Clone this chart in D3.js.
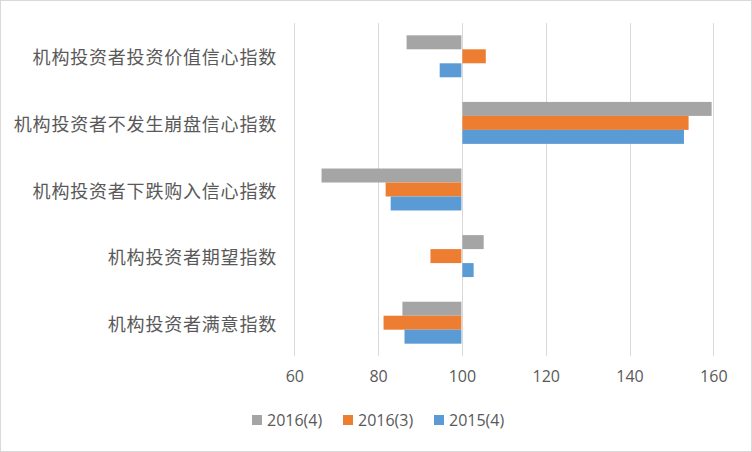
<!DOCTYPE html>
<html><head><meta charset="utf-8">
<script src="https://cdn.jsdelivr.net/npm/d3@7"></script>
<style>body{margin:0;background:#fff;}svg{display:block;}</style>
</head><body>
<script>
const categories = ["机构投资者投资价值信心指数","机构投资者不发生崩盘信心指数","机构投资者下跌购入信心指数","机构投资者期望指数","机构投资者满意指数"];
const seriesNames = ["2016(4)","2016(3)","2015(4)"];
const s2016q4 = [86.8, 159.6, 66.5, 105.2, 85.8];
const s2016q3 = [105.7, 154.1, 81.8, 92.5, 81.3];
const s2015q4 = [94.7, 153.0, 83.0, 102.8, 86.3];
const colors = ["#A5A5A5","#ED7D31","#5B9BD5"];
const xTicks = [60,80,100,120,140,160];
const baseline = 100;

const W=752,H=452;
const svg=d3.select("body").append("svg").attr("width",W).attr("height",H);
svg.append("rect").attr("x",0.5).attr("y",0.5).attr("width",W-1).attr("height",H-1).attr("fill","#fff").attr("stroke","#d9d9d9");

const x=d3.scaleLinear().domain([60,160]).range([294.3,713.3]);
const y=d3.scaleBand().domain(categories).range([23,356]).paddingInner(0.37).paddingOuter(0.185);
const inner=d3.scaleBand().domain(seriesNames).range([0,y.bandwidth()]);

// gridlines
svg.append("g").selectAll("line").data(xTicks).join("line")
  .attr("x1",d=>Math.round(x(d))+0.5).attr("x2",d=>Math.round(x(d))+0.5)
  .attr("y1",23).attr("y2",356).attr("stroke","#d9d9d9").attr("stroke-width",1);

const series=[s2016q4,s2016q3,s2015q4];
series.forEach((vals,si)=>{
  svg.append("g").selectAll("rect").data(vals).join("rect")
    .attr("x",v=>Math.min(x(v),x(baseline)+0.5))
    .attr("width",v=>Math.abs(x(v)-x(baseline))-0.5)
    .attr("y",(v,i)=>y(categories[i])+inner(seriesNames[si]))
    .attr("height",inner.bandwidth())
    .attr("fill",colors[si]);
});

// category labels
svg.append("g").selectAll("text").data(categories).join("text")
  .attr("x",277).attr("y",d=>y(d)+y.bandwidth()/2)
  .attr("text-anchor","end").attr("dominant-baseline","central")
  .attr("font-family","'Noto Sans CJK SC', sans-serif").attr("font-size",18)
  .attr("letter-spacing","0.8px")
  .attr("fill","#595959").text(d=>d);

// x axis
const xa=svg.append("g").attr("transform","translate(0,356)")
  .call(d3.axisBottom(x).tickValues(xTicks).tickSize(0).tickPadding(15));
xa.select(".domain").remove();
xa.selectAll("text").attr("font-family","'Open Sans', sans-serif").attr("font-size",16).attr("fill","#595959");

// legend
const lx=[252,343,434];
const lg=svg.append("g");
seriesNames.forEach((n,i)=>{
  lg.append("rect").attr("x",lx[i]).attr("y",415).attr("width",10).attr("height",10).attr("fill",colors[i]);
  lg.append("text").attr("x",lx[i]+15).attr("y",420).attr("dominant-baseline","central")
    .attr("font-family","'Open Sans', sans-serif").attr("font-size",16).attr("fill","#595959").text(n);
});
</script>
</body></html>
